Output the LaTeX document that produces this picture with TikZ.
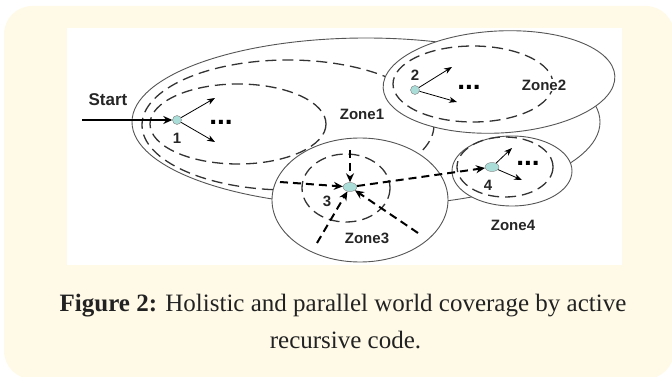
\documentclass[tikz,border=0pt]{standalone}
\usepackage{fontspec}
\setmainfont{Liberation Serif}
\newfontfamily\diagfont{Liberation Sans}
\usetikzlibrary{shapes.geometric,arrows.meta}

\definecolor{cream}{RGB}{255,250,232}
\definecolor{agentfill}{RGB}{170,220,216}
\definecolor{zoneline}{RGB}{85,85,85}
\definecolor{captext}{RGB}{34,34,34}

\tikzset{
  zone/.style={draw=zoneline, line width=0.9pt, fill=white},
  ring/.style={draw=black!80, line width=1.3pt, dash pattern=on 11pt off 6pt},
  agent/.style={circle, draw=gray, fill=agentfill, inner sep=0pt, minimum size=9pt},
  wideagent/.style={ellipse, draw=gray, fill=agentfill, inner sep=0pt, minimum width=14pt, minimum height=9pt},
  hop/.style={-{Stealth[length=8pt,width=6pt]}, line width=0.8pt},
  jump/.style={-{Stealth[length=9pt,width=8pt]}, line width=2pt, dash pattern=on 8pt off 5pt},
  lbl/.style={font=\diagfont\bfseries\fontsize{15}{15}\selectfont, text=black!85, inner sep=1pt},
  num/.style={font=\diagfont\bfseries\fontsize{15}{15}\selectfont, text=black!85, inner sep=0pt},
  more/.style={font=\diagfont\bfseries\fontsize{28}{28}\selectfont, anchor=base, inner sep=0pt},
  captionline/.style={font=\fontsize{25}{25}\selectfont, text=captext, anchor=base, inner sep=0pt}
}

\begin{document}
\begin{tikzpicture}[x=1pt,y=-1pt]
    %%%%%%%%%% Sfondo %%%%%%%%%%
    \useasboundingbox (0,0) rectangle (672,377);
    \fill[cream, rounded corners=28pt] (4,6) rectangle (674,379);
    \fill[white] (67,28) rectangle (622,265);

    %%%%%%%%%% Zone %%%%%%%%%%
    \draw[zone] (366,122) ellipse [x radius=234, y radius=84];
    \draw[ring] (288,125) ellipse [x radius=146, y radius=65];
    \draw[ring] (238,124) ellipse [x radius=88, y radius=40];
    \draw[zone] (512,171) ellipse [x radius=60, y radius=35];
    \draw[zone, rotate around={3:(499,82)}] (499,82) ellipse [x radius=116, y radius=51];
    \draw[zone] (360,200) ellipse [x radius=88, y radius=62];
    \draw[ring] (473,84) ellipse [x radius=80, y radius=38];
    \draw[ring] (505,167) ellipse [x radius=48, y radius=30];
    \draw[ring] (346,188) ellipse [x radius=44, y radius=34];

    %%%%%%%%%% Nodi %%%%%%%%%%
    \node[agent] (n1) at (177,120) {};
    \node[agent] (n2) at (415,90) {};
    \node[wideagent] (n3) at (350,187) {};
    \node[wideagent] (n4) at (492,167) {};

    \node[lbl] (start) at (108,100) {\fontsize{17}{17}\selectfont Start};
    \node[num] (l1) at (177,138) {1};
    \node[num] (l2) at (415,75) {2};
    \node[num] (l3) at (327,201) {3};
    \node[num] (l4) at (488,185) {4};
    \node[more] (d1) at (221,125) {...};
    \node[more] (d2) at (469,90) {...};
    \node[more] (d4) at (528,165) {...};
    \node[lbl] (z1) at (362,114) {Zone1};
    \node[lbl, fill=white] (z2) at (544,85) {Zone2};
    \node[lbl] (z3) at (367,238) {Zone3};
    \node[lbl] (z4) at (513,225) {Zone4};

    \coordinate (s0) at (82,120);
    \coordinate (a1) at (215,98);
    \coordinate (b1) at (215,142);
    \coordinate (a2) at (452,67);
    \coordinate (b2) at (457,102);
    \coordinate (a4) at (512,148);
    \coordinate (b4) at (522,180);
    \coordinate (t3) at (350,150);
    \coordinate (w3) at (280,182);
    \coordinate (sw3) at (317,243);
    \coordinate (se3) at (418,233);

    %%%%%%%%% Frecce %%%%%%%%%
    \draw[-{Stealth[length=9pt,width=8pt]},line width=2pt] (s0) -- (n1);
    \draw[hop] (n1) -- (a1);
    \draw[hop] (n1) -- (b1);
    \draw[hop] (n2) -- (a2);
    \draw[hop] (n2) -- (b2);
    \draw[hop] (n4) -- (a4);
    \draw[hop] (n4) -- (b4);
    \draw[jump] (t3) -- (n3);
    \draw[jump] (w3) -- (n3);
    \draw[jump] (sw3) -- (n3);
    \draw[jump] (se3) -- (n3);
    \draw[jump] (n3) -- (n4);

    %%%%%%%%% Didascalia %%%%%%%%%
    \node[captionline] (cap1) at (343,311) {\textbf{Figure 2:} Holistic and parallel world coverage by active};
    \node[captionline] (cap2) at (345.5,348) {recursive code.};
\end{tikzpicture}
\end{document}
